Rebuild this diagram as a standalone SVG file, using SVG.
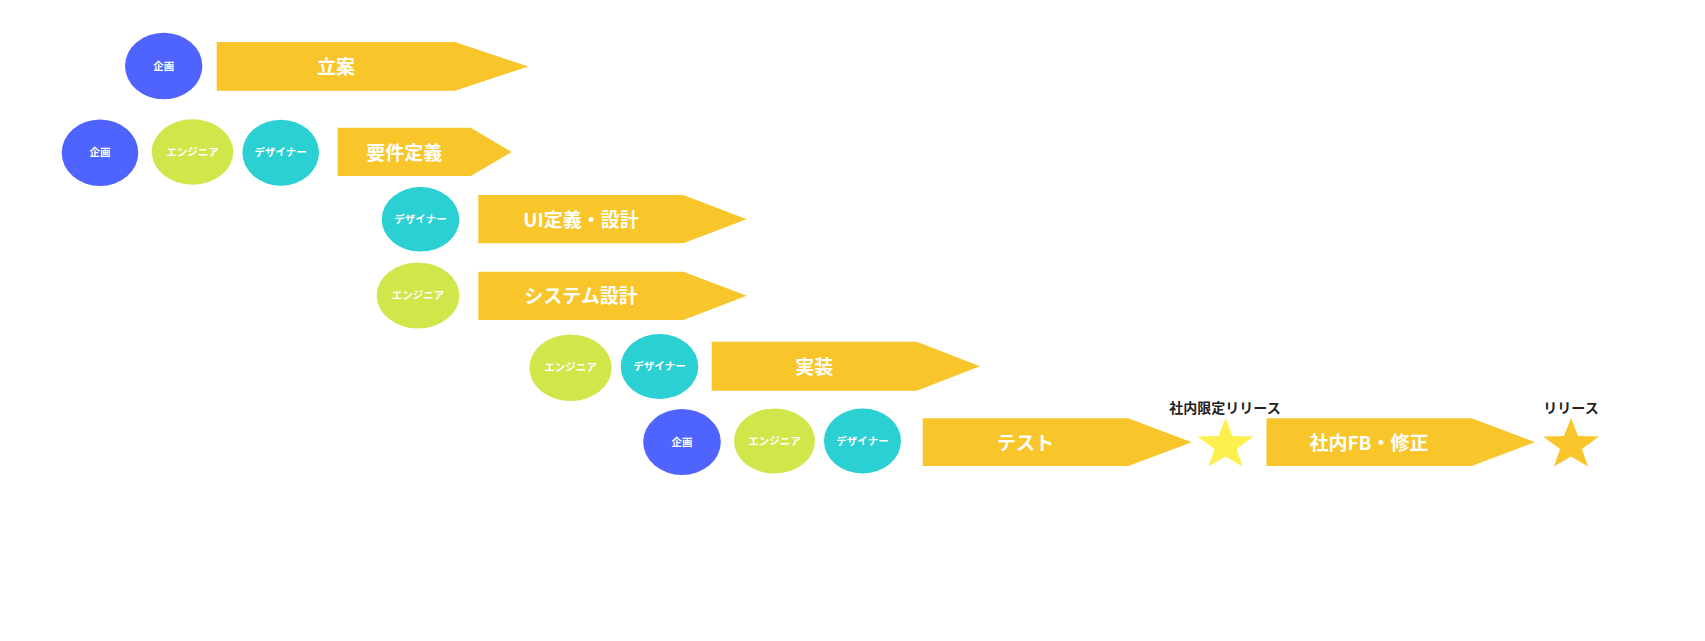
<svg xmlns="http://www.w3.org/2000/svg" width="1705" height="641" viewBox="0 0 1705 641">
<style>
text{font-family:"Noto Sans CJK JP","Noto Sans",sans-serif;font-weight:700;text-anchor:middle;dominant-baseline:central}
.role{fill:#fff;font-size:10.5px}
.step{fill:#fff;font-size:19px}
.mile{fill:#222;font-size:14px}
.plan{fill:#4F63FE}
.eng{fill:#D0E64B}
.des{fill:#2BD0D3}
.arrow{fill:#F8C52A}
</style>
<defs>
<polygon id="star" points="0,-27 7,-9 28,-8.5 11,4 17,21.5 0,11.5 -17,21.5 -11,4 -28,-8.5 -7,-9"/>
</defs>
<rect width="1705" height="641" fill="#fff"/>

<g id="row1-plan"><ellipse class="plan" cx="163.7" cy="66" rx="38.7" ry="33.3"/><text class="role" x="163.7" y="65.2">企画</text></g>
<g id="step-rian"><polygon class="arrow" points="216.7,42 455,42 528.3,66.5 455,90.7 216.7,90.7"/><text class="step" x="336" y="65.5">立案</text></g>

<g id="row2-plan"><ellipse class="plan" cx="100" cy="152.7" rx="38.3" ry="33.3"/><text class="role" x="100" y="151.9">企画</text></g>
<g id="row2-eng"><ellipse class="eng" cx="192.5" cy="152" rx="40.8" ry="32.7"/><text class="role" x="192.5" y="151.2">エンジニア</text></g>
<g id="row2-des"><ellipse class="des" cx="280.7" cy="152.7" rx="38.3" ry="33"/><text class="role" x="280.7" y="151.9">デザイナー</text></g>
<g id="step-youken"><polygon class="arrow" points="337.7,127.7 470.7,127.7 511.7,152 470.7,176 337.7,176"/><text class="step" x="404.2" y="151">要件定義</text></g>

<g id="row3-des"><ellipse class="des" cx="420.5" cy="219.3" rx="38.8" ry="32.3"/><text class="role" x="420.5" y="218.5">デザイナー</text></g>
<g id="step-ui"><polygon class="arrow" points="478.3,195 683.3,195 746.7,219.3 683.3,243.3 478.3,243.3"/><text class="step" x="581" y="218.3">UI定義・設計</text></g>

<g id="row4-eng"><ellipse class="eng" cx="418" cy="295.5" rx="41.3" ry="33"/><text class="role" x="418" y="294.7">エンジニア</text></g>
<g id="step-system"><polygon class="arrow" points="478.3,271.7 683.3,271.7 746.7,295.8 683.3,320 478.3,320"/><text class="step" x="581" y="294.8">システム設計</text></g>

<g id="row5-eng"><ellipse class="eng" cx="570.5" cy="367.7" rx="41.2" ry="33.3"/><text class="role" x="570.5" y="366.9">エンジニア</text></g>
<g id="row5-des"><ellipse class="des" cx="659.5" cy="366.5" rx="38.8" ry="32.5"/><text class="role" x="659.5" y="365.7">デザイナー</text></g>
<g id="step-jissou"><polygon class="arrow" points="711.7,341.7 916.7,341.7 980,366.2 916.7,390.7 711.7,390.7"/><text class="step" x="814.2" y="365.2">実装</text></g>

<g id="row6-plan"><ellipse class="plan" cx="682" cy="442" rx="38.8" ry="33"/><text class="role" x="682" y="441.2">企画</text></g>
<g id="row6-eng"><ellipse class="eng" cx="774.5" cy="441" rx="40.5" ry="32.5"/><text class="role" x="774.5" y="440.2">エンジニア</text></g>
<g id="row6-des"><ellipse class="des" cx="862.5" cy="441" rx="38.5" ry="32.5"/><text class="role" x="862.5" y="440.2">デザイナー</text></g>
<g id="step-test"><polygon class="arrow" points="922.7,418.3 1128.3,418.3 1191.7,442.2 1128.3,466 922.7,466"/><text class="step" x="1025.5" y="441.2">テスト</text></g>

<g id="milestone-internal"><use href="#star" x="1225.5" y="445" fill="#FDF04D"/><text class="mile" x="1225" y="406.5">社内限定リリース</text></g>

<g id="step-fb"><polygon class="arrow" points="1266.5,418.3 1471.7,418.3 1535,442.2 1471.7,466 1266.5,466"/><text class="step" x="1369" y="441.2">社内FB・修正</text></g>

<g id="milestone-release"><use href="#star" x="1571" y="445" fill="#F8C52A"/><text class="mile" x="1571" y="406.5">リリース</text></g>

<g id="connectors"></g>
</svg>
